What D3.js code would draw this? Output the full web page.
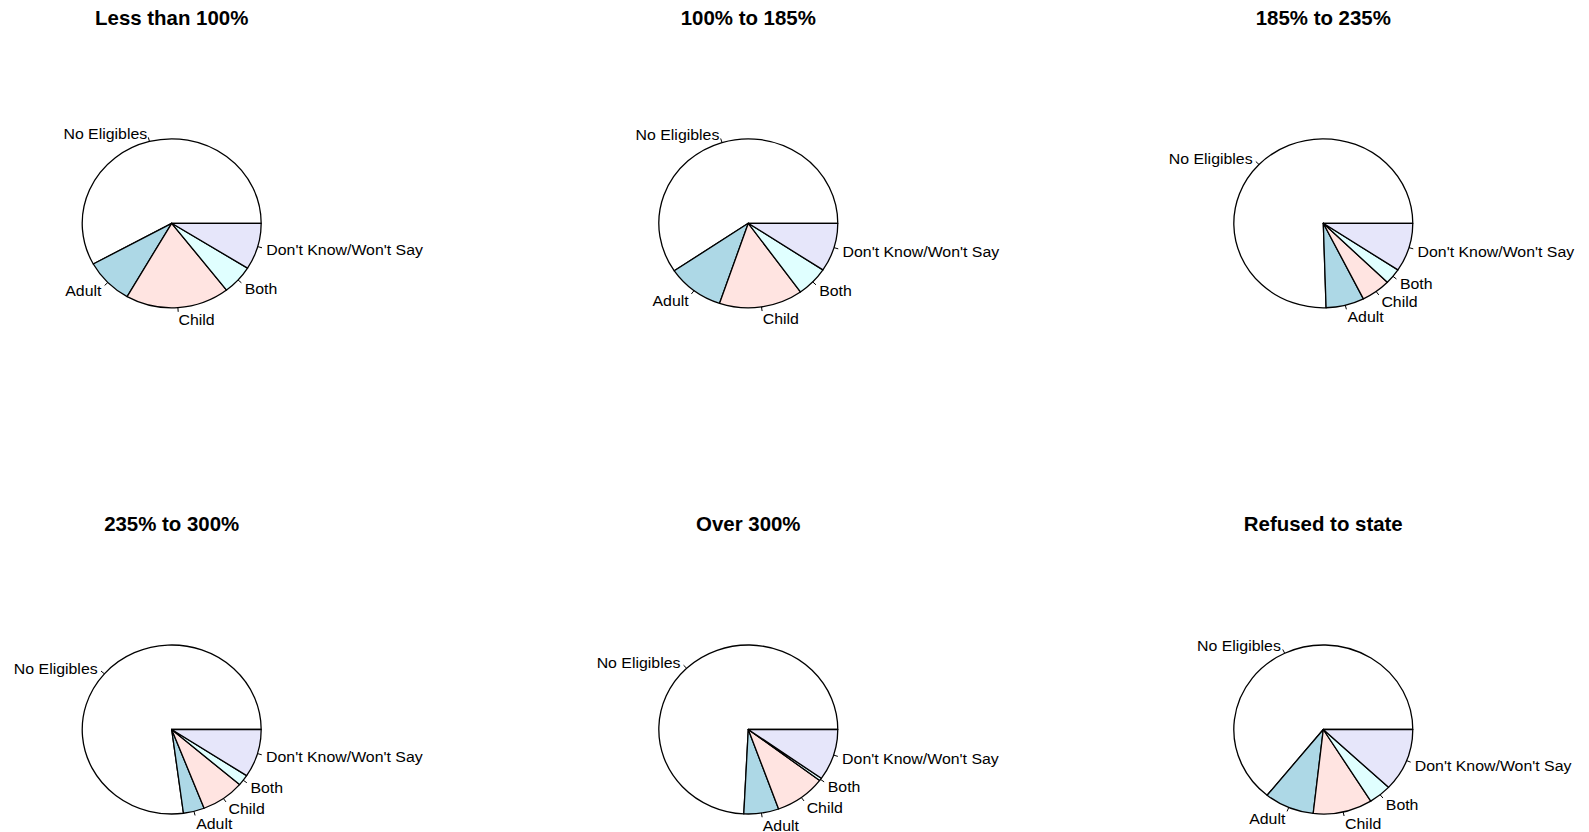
<!DOCTYPE html>
<html>
<head>
<meta charset="utf-8">
<script src="https://cdn.jsdelivr.net/npm/d3@7"></script>
<style>
  html, body { margin: 0; padding: 0; background: #fff; }
  svg { display: block; font-family: "Liberation Sans", Arial, Helvetica, sans-serif; }
</style>
</head>
<body>
<svg id="chart" width="1589" height="832"></svg>
<script>
// Eligibility status by household income (% of poverty level)
const categories = ["No Eligibles", "Adult", "Child", "Both", "Don't Know/Won't Say"];
const panelTitles = ["Less than 100%", "100% to 185%", "185% to 235%",
                     "235% to 300%", "Over 300%", "Refused to state"];

// Share of respondents (%) in each category, one array per income band
const lessThan100 = [58.0, 8.7, 18.8, 5.6, 8.9];
const from100to185 = [59.5, 10.3, 15.1, 5.8, 9.3];
const from185to235 = [75.5, 6.9, 5.3, 3.0, 9.3];
const from235to300 = [77.1, 3.8, 7.8, 2.1, 9.2];
const over300 = [74.2, 6.3, 9.2, 0.5, 9.8];
const refusedToState = [64.2, 9.0, 10.7, 4.1, 12.0];

const panelValues = [lessThan100, from100to185, from185to235,
                     from235to300, over300, refusedToState];

const sliceColors = ["#FFFFFF", "#ADD8E6", "#FFE4E1", "#E0FFFF", "#E6E6FA"];

// 2 x 3 grid of pie centres
const colX = [171.7, 748.3, 1323.3];
const rowY = [223.3, 729.5];
const radius = 84.5;      // vertical radius
const stretchX = 1.059;   // horizontal aspect of the plotting device

const svg = d3.select("#chart");

const color = d3.scaleOrdinal().domain(categories).range(sliceColors);

// Counter-clockwise from 3 o'clock, in input order
const pie = d3.pie()
  .sort(null)
  .value(d => d.value)
  .startAngle(Math.PI / 2)
  .endAngle(Math.PI / 2 - 2 * Math.PI);

const arc = d3.arc().innerRadius(0).outerRadius(radius);

panelTitles.forEach((title, i) => {
  const cx = colX[i % 3];
  const cy = rowY[Math.floor(i / 3)];
  const g = svg.append("g")
    .attr("transform", `translate(${cx},${cy}) scale(${stretchX},1)`);

  g.append("text")
    .attr("x", 0)
    .attr("y", -198.5)
    .attr("text-anchor", "middle")
    .attr("font-weight", "bold")
    .attr("font-size", 19.3)
    .attr("fill", "#000")
    .text(title);

  const data = categories.map((c, k) => ({ category: c, value: panelValues[i][k] }));
  const arcs = pie(data);

  g.selectAll("path.slice")
    .data(arcs)
    .join("path")
    .attr("class", "slice")
    .attr("d", arc)
    .attr("fill", d => color(d.data.category))
    .attr("stroke", "#000")
    .attr("stroke-width", 1.3)
    .attr("stroke-linejoin", "round")
    .attr("vector-effect", "non-scaling-stroke");

  const mid = d => (d.startAngle + d.endAngle) / 2;
  const px = (d, f) => Math.sin(mid(d)) * radius * f;
  const py = (d, f) => -Math.cos(mid(d)) * radius * f;
  // labels below the centre sit a little lower
  const drop = d => 3.8 * Math.max(0, -Math.cos(mid(d)));

  g.selectAll("line.tick")
    .data(arcs)
    .join("line")
    .attr("class", "tick")
    .attr("x1", d => px(d, 1.0))
    .attr("y1", d => py(d, 1.0))
    .attr("x2", d => px(d, 1.05))
    .attr("y2", d => py(d, 1.05))
    .attr("stroke", "#000")
    .attr("stroke-width", 1)
    .attr("vector-effect", "non-scaling-stroke");

  g.selectAll("text.label")
    .data(arcs)
    .join("text")
    .attr("class", "label")
    .attr("x", d => px(d, 1.1))
    .attr("y", d => py(d, 1.1) + drop(d))
    .attr("dy", "0.36em")
    .attr("text-anchor", d => (px(d, 1) < 0 ? "end" : "start"))
    .attr("font-size", 15)
    .attr("fill", "#000")
    .text(d => d.data.category);
});
</script>
</body>
</html>
